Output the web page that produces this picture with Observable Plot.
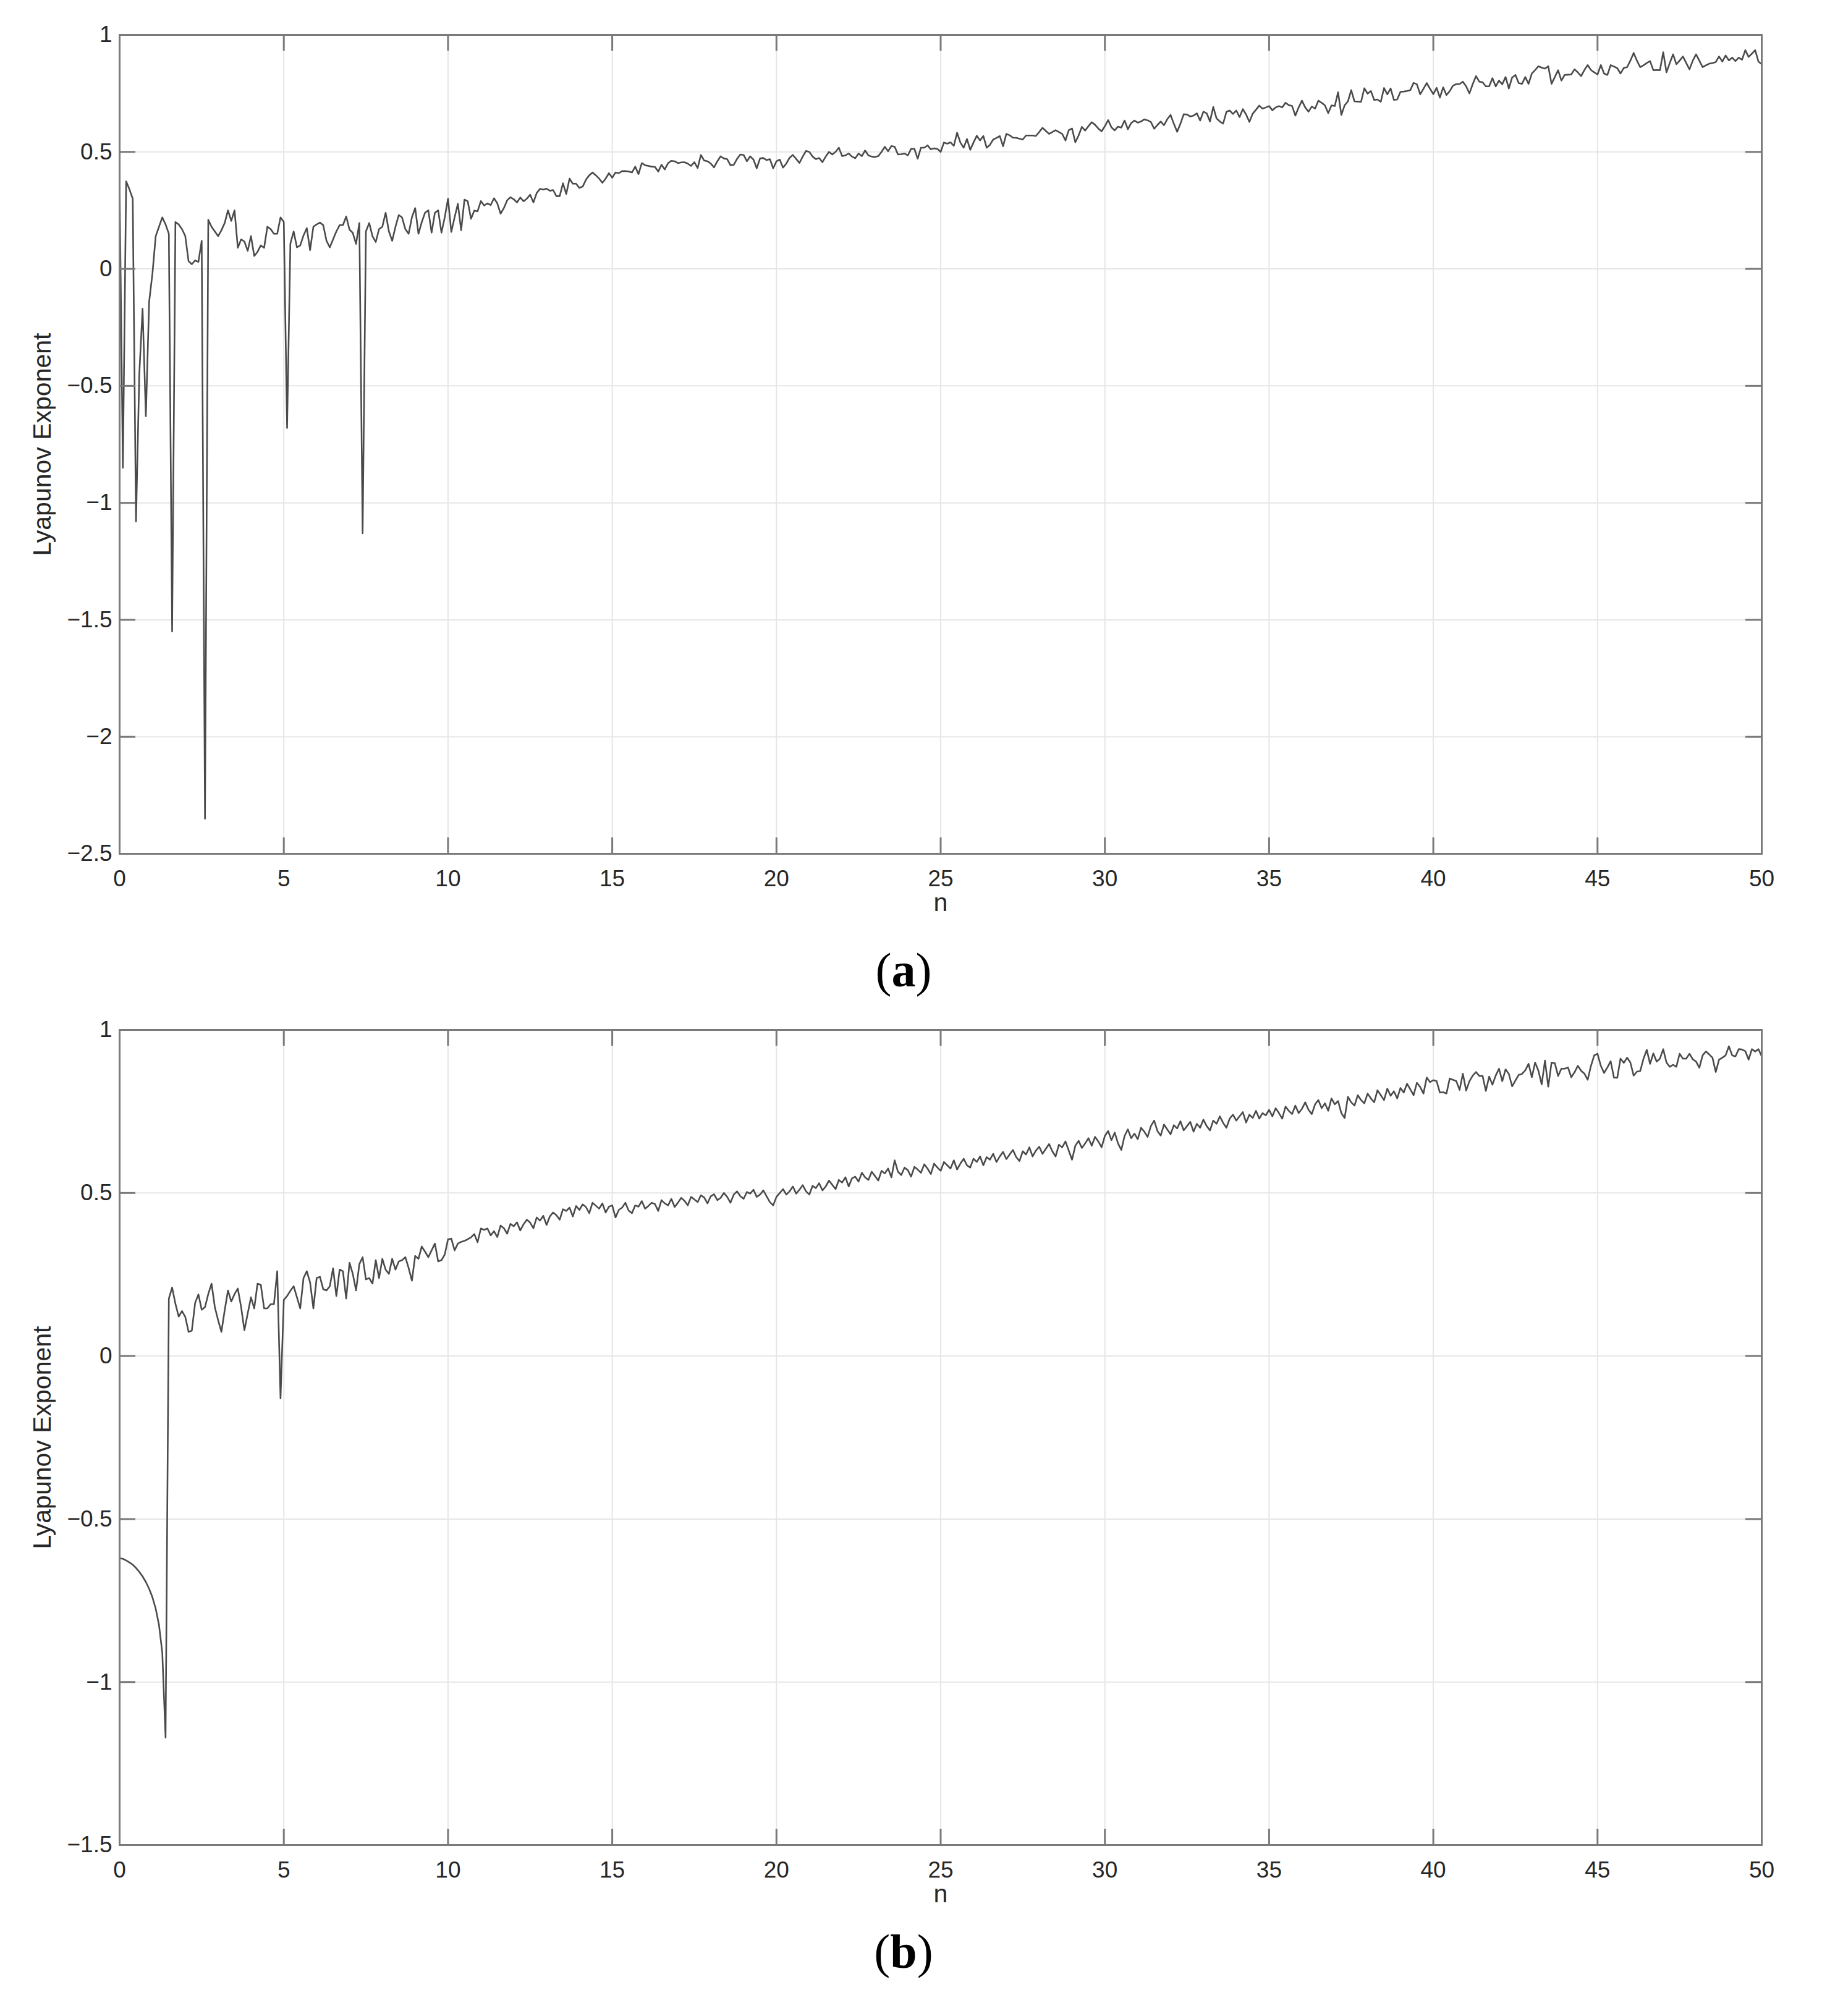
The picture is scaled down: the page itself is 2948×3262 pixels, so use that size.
<!DOCTYPE html>
<html>
<head>
<meta charset="utf-8">
<script src="https://cdn.jsdelivr.net/npm/d3@7"></script>
<script src="https://cdn.jsdelivr.net/npm/@observablehq/plot@0.6"></script>
<style>
  html, body { margin: 0; padding: 0; background: #ffffff; }
  body { width: 2948px; height: 3262px; position: relative; overflow: hidden; }
  .panel { position: absolute; left: 0; z-index: 1; }
  .caption { position: absolute; width: 400px; left: 1262px; text-align: center; z-index: 5;
             font-family: "Liberation Serif", "DejaVu Serif", serif; font-size: 78px; line-height: 1; color: #000; }
  .caption b { font-weight: bold; }
</style>
</head>
<body>
<div id="panelA" class="panel" style="top:0px"></div>
<div id="panelB" class="panel" style="top:1600px"></div>
<div class="caption" style="top:1531px">(<b>a</b>)</div>
<div class="caption" style="top:3119px">(<b>b</b>)</div>
<script>
// ---------------- DATA ----------------
const nStep = 0.1;
const xTicks = [0, 5, 10, 15, 20, 25, 30, 35, 40, 45, 50];
const yTicksA = [-2.5, -2, -1.5, -1, -0.5, 0, 0.5, 1];
const yTicksB = [-1.5, -1, -0.5, 0, 0.5, 1];
const xLabel = "n";
const yLabel = "Lyapunov Exponent";

// Panel (a): Lyapunov exponent, n = 0.0 ... 9.9
const lyapA_00 = [
  0.36, -0.85, 0.374, 0.34, 0.30, -1.08, -0.45, -0.17, -0.63, -0.14,
  -0.02, 0.14, 0.18, 0.22, 0.19, 0.15, -1.55, 0.20, 0.19, 0.17,
  0.14, 0.033, 0.02, 0.036, 0.03, 0.12, -2.35, 0.21, 0.18, 0.16,
  0.14, 0.165, 0.196, 0.25, 0.205, 0.25, 0.09, 0.126, 0.117, 0.077,
  0.14, 0.055, 0.073, 0.10, 0.09, 0.18, 0.17, 0.15, 0.15, 0.22,
  0.20, -0.68, 0.108, 0.16, 0.092, 0.10, 0.143, 0.174, 0.08, 0.18,
  0.19, 0.198, 0.187, 0.12, 0.092, 0.126, 0.16, 0.187, 0.187, 0.224,
  0.168, 0.154, 0.107, 0.196, -1.13, 0.16, 0.196, 0.14, 0.115, 0.17,
  0.18, 0.24, 0.16, 0.12, 0.18, 0.23, 0.22, 0.17, 0.15, 0.22,
  0.26, 0.15, 0.20, 0.24, 0.25, 0.155, 0.24, 0.25, 0.155, 0.22
];
// n = 10.0 ... 19.9
const lyapA_10 = [
  0.30, 0.158, 0.22, 0.278, 0.165, 0.296, 0.289, 0.214, 0.249, 0.246,
  0.290, 0.271, 0.280, 0.273, 0.302, 0.280, 0.236, 0.26, 0.293, 0.306,
  0.298, 0.284, 0.305, 0.289, 0.30, 0.317, 0.284, 0.324, 0.342, 0.339,
  0.343, 0.334, 0.337, 0.311, 0.311, 0.366, 0.320, 0.386, 0.364, 0.364,
  0.346, 0.352, 0.381, 0.40, 0.412, 0.40, 0.386, 0.368, 0.386, 0.409,
  0.390, 0.412, 0.409, 0.418, 0.418, 0.416, 0.412, 0.437, 0.405, 0.452,
  0.443, 0.44, 0.437, 0.436, 0.416, 0.445, 0.425, 0.452, 0.462, 0.46,
  0.452, 0.455, 0.456, 0.45, 0.44, 0.456, 0.431, 0.487, 0.463, 0.460,
  0.45, 0.434, 0.46, 0.481, 0.472, 0.469, 0.443, 0.445, 0.47, 0.489,
  0.487, 0.460, 0.481, 0.467, 0.430, 0.472, 0.474, 0.465, 0.469, 0.430
];
// n = 20.0 ... 29.9
const lyapA_20 = [
  0.46, 0.467, 0.433, 0.45, 0.475, 0.487, 0.47, 0.453, 0.48, 0.504,
  0.50, 0.48, 0.469, 0.474, 0.456, 0.48, 0.50, 0.489, 0.50, 0.518,
  0.482, 0.485, 0.493, 0.48, 0.473, 0.493, 0.482, 0.506, 0.485, 0.48,
  0.478, 0.482, 0.50, 0.522, 0.503, 0.525, 0.522, 0.489, 0.49, 0.493,
  0.485, 0.513, 0.513, 0.471, 0.518, 0.518, 0.528, 0.511, 0.515, 0.513,
  0.50, 0.540, 0.535, 0.541, 0.526, 0.582, 0.540, 0.518, 0.555, 0.509,
  0.54, 0.569, 0.549, 0.568, 0.518, 0.53, 0.553, 0.56, 0.568, 0.524,
  0.577, 0.571, 0.561, 0.56, 0.556, 0.553, 0.570, 0.57, 0.57, 0.568,
  0.585, 0.603, 0.59, 0.577, 0.585, 0.593, 0.585, 0.577, 0.549, 0.593,
  0.600, 0.541, 0.57, 0.607, 0.591, 0.61, 0.627, 0.616, 0.60, 0.588
];
// n = 30.0 ... 39.9
const lyapA_30 = [
  0.61, 0.636, 0.605, 0.592, 0.608, 0.604, 0.634, 0.597, 0.623, 0.634,
  0.625, 0.63, 0.639, 0.635, 0.628, 0.599, 0.615, 0.630, 0.614, 0.64,
  0.658, 0.62, 0.586, 0.62, 0.661, 0.66, 0.651, 0.655, 0.665, 0.634,
  0.672, 0.665, 0.630, 0.692, 0.643, 0.63, 0.621, 0.671, 0.677, 0.662,
  0.677, 0.649, 0.683, 0.66, 0.628, 0.663, 0.68, 0.698, 0.685, 0.69,
  0.696, 0.678, 0.69, 0.696, 0.690, 0.710, 0.70, 0.696, 0.655, 0.69,
  0.719, 0.69, 0.672, 0.694, 0.685, 0.719, 0.71, 0.699, 0.666, 0.699,
  0.696, 0.755, 0.658, 0.699, 0.716, 0.764, 0.716, 0.715, 0.714, 0.772,
  0.749, 0.760, 0.722, 0.724, 0.714, 0.773, 0.746, 0.771, 0.722, 0.724,
  0.757, 0.758, 0.76, 0.764, 0.795, 0.789, 0.746, 0.77, 0.794, 0.77
];
// n = 40.0 ... 50.0
const lyapA_40 = [
  0.747, 0.774, 0.732, 0.776, 0.743, 0.76, 0.783, 0.79, 0.79, 0.800,
  0.78, 0.750, 0.79, 0.824, 0.80, 0.798, 0.78, 0.780, 0.815, 0.780,
  0.805, 0.789, 0.820, 0.771, 0.818, 0.829, 0.794, 0.791, 0.820, 0.791,
  0.835, 0.85, 0.866, 0.86, 0.856, 0.866, 0.791, 0.82, 0.849, 0.805,
  0.829, 0.83, 0.831, 0.853, 0.84, 0.824, 0.85, 0.871, 0.85, 0.840,
  0.831, 0.871, 0.835, 0.829, 0.871, 0.865, 0.858, 0.835, 0.859, 0.862,
  0.89, 0.923, 0.89, 0.862, 0.87, 0.880, 0.888, 0.849, 0.85, 0.849,
  0.926, 0.840, 0.88, 0.917, 0.875, 0.89, 0.908, 0.88, 0.853, 0.89,
  0.917, 0.89, 0.862, 0.87, 0.877, 0.88, 0.884, 0.908, 0.886, 0.912,
  0.891, 0.903, 0.888, 0.903, 0.894, 0.935, 0.906, 0.92, 0.935, 0.886,
  0.875
];

// Panel (b): Lyapunov exponent, n = 0.0 ... 9.9
const lyapB_00 = [
  -0.62, -0.622, -0.627, -0.633, -0.64, -0.65, -0.662, -0.676, -0.693, -0.714,
  -0.74, -0.775, -0.825, -0.91, -1.17, 0.176, 0.21, 0.16, 0.121, 0.138,
  0.12, 0.074, 0.078, 0.163, 0.189, 0.142, 0.15, 0.19, 0.222, 0.15,
  0.11, 0.074, 0.14, 0.201, 0.167, 0.19, 0.207, 0.15, 0.079, 0.13,
  0.18, 0.146, 0.222, 0.218, 0.146, 0.146, 0.159, 0.159, 0.26, -0.13,
  0.172, 0.184, 0.20, 0.214, 0.18, 0.146, 0.239, 0.26, 0.226, 0.146,
  0.239, 0.243, 0.205, 0.201, 0.214, 0.269, 0.184, 0.265, 0.26, 0.176,
  0.286, 0.252, 0.201, 0.282, 0.303, 0.235, 0.239, 0.222, 0.294, 0.239,
  0.298, 0.265, 0.252, 0.298, 0.265, 0.29, 0.294, 0.303, 0.27, 0.231,
  0.307, 0.298, 0.336, 0.32, 0.303, 0.324, 0.345, 0.29, 0.294, 0.311
];
// n = 10.0 ... 19.9
const lyapB_10 = [
  0.358, 0.36, 0.324, 0.345, 0.35, 0.353, 0.358, 0.364, 0.374, 0.349,
  0.391, 0.387, 0.391, 0.37, 0.383, 0.365, 0.40, 0.392, 0.375, 0.405,
  0.398, 0.41, 0.385, 0.404, 0.418, 0.409, 0.392, 0.425, 0.415, 0.43,
  0.402, 0.428, 0.44, 0.432, 0.418, 0.45, 0.445, 0.455, 0.428, 0.46,
  0.448, 0.465, 0.457, 0.438, 0.47, 0.461, 0.452, 0.468, 0.44, 0.458,
  0.462, 0.425, 0.448, 0.455, 0.47, 0.446, 0.438, 0.462, 0.458, 0.475,
  0.452, 0.46, 0.47, 0.466, 0.445, 0.478, 0.468, 0.462, 0.482, 0.457,
  0.47, 0.485, 0.476, 0.462, 0.488, 0.48, 0.472, 0.493, 0.486, 0.468,
  0.49, 0.496, 0.478, 0.485, 0.5, 0.488, 0.47, 0.495, 0.505, 0.49,
  0.482, 0.503, 0.498, 0.51, 0.488, 0.495, 0.508, 0.49, 0.472, 0.462
];
// n = 20.0 ... 29.9
const lyapB_20 = [
  0.488, 0.5, 0.512, 0.495, 0.505, 0.52, 0.498, 0.51, 0.524, 0.505,
  0.495, 0.522, 0.515, 0.53, 0.508, 0.52, 0.538, 0.525, 0.512, 0.54,
  0.532, 0.548, 0.52, 0.545, 0.55, 0.535, 0.562, 0.548, 0.54, 0.565,
  0.552, 0.538, 0.568, 0.56, 0.575, 0.548, 0.6, 0.565, 0.555, 0.578,
  0.57, 0.55, 0.58, 0.572, 0.562, 0.588, 0.575, 0.558, 0.59, 0.578,
  0.568, 0.595, 0.585, 0.575, 0.6, 0.572, 0.59, 0.605, 0.585, 0.578,
  0.605, 0.595, 0.612, 0.585, 0.61, 0.602, 0.62, 0.595, 0.612, 0.626,
  0.604, 0.618, 0.632, 0.61, 0.598, 0.628, 0.618, 0.64, 0.612, 0.63,
  0.642, 0.62, 0.635, 0.65, 0.628, 0.612, 0.648, 0.64, 0.658, 0.63,
  0.602, 0.645, 0.66, 0.638, 0.652, 0.668, 0.645, 0.672, 0.658, 0.64
];
// n = 30.0 ... 39.9
const lyapB_30 = [
  0.675, 0.69, 0.662, 0.685, 0.652, 0.632, 0.675, 0.695, 0.668, 0.682,
  0.665, 0.7, 0.688, 0.672, 0.705, 0.722, 0.69, 0.676, 0.71, 0.695,
  0.68, 0.708, 0.698, 0.72, 0.692, 0.705, 0.718, 0.688, 0.712, 0.7,
  0.725, 0.705, 0.692, 0.722, 0.712, 0.735, 0.715, 0.7, 0.728, 0.74,
  0.722, 0.735, 0.748, 0.716, 0.74, 0.73, 0.752, 0.728, 0.745, 0.738,
  0.755, 0.735, 0.76, 0.745, 0.728, 0.765, 0.752, 0.742, 0.768, 0.745,
  0.758, 0.778, 0.755, 0.742, 0.772, 0.785, 0.76, 0.775, 0.752, 0.79,
  0.772, 0.782, 0.745, 0.73, 0.795, 0.778, 0.768, 0.8, 0.785, 0.775,
  0.805, 0.79, 0.778, 0.815, 0.8, 0.785, 0.82, 0.798, 0.812, 0.79,
  0.822, 0.808, 0.835, 0.818, 0.8, 0.838, 0.825, 0.805, 0.854, 0.84
];
// n = 40.0 ... 50.0
const lyapB_40 = [
  0.846, 0.843, 0.808, 0.809, 0.805, 0.851, 0.847, 0.843, 0.816, 0.866,
  0.814, 0.843, 0.86, 0.871, 0.859, 0.859, 0.813, 0.857, 0.832, 0.86,
  0.881, 0.843, 0.879, 0.865, 0.827, 0.845, 0.862, 0.865, 0.876, 0.896,
  0.855, 0.90, 0.875, 0.833, 0.906, 0.826, 0.90, 0.898, 0.859, 0.881,
  0.881, 0.885, 0.855, 0.87, 0.89, 0.875, 0.866, 0.847, 0.89, 0.922,
  0.927, 0.89, 0.868, 0.885, 0.904, 0.854, 0.853, 0.912, 0.899, 0.915,
  0.90, 0.86, 0.872, 0.874, 0.912, 0.939, 0.896, 0.928, 0.903, 0.912,
  0.941, 0.90, 0.887, 0.893, 0.887, 0.927, 0.912, 0.912, 0.927, 0.91,
  0.903, 0.884, 0.922, 0.934, 0.925, 0.915, 0.871, 0.909, 0.915, 0.922,
  0.95, 0.922, 0.919, 0.941, 0.94, 0.935, 0.909, 0.941, 0.934, 0.941,
  0.919
];

const segmentsA = [[0, lyapA_00], [10, lyapA_10], [20, lyapA_20], [30, lyapA_30], [40, lyapA_40]];
const segmentsB = [[0, lyapB_00], [10, lyapB_10], [20, lyapB_20], [30, lyapB_30], [40, lyapB_40]];

function toRows(segments) {
  const rows = [];
  for (const [start, vals] of segments) {
    vals.forEach((v, i) => rows.push({n: Math.round((start + i * nStep) * 10) / 10, v}));
  }
  return rows;
}

// ---------------- STYLE / LAYOUT ----------------
const W = 2948;
const ML = 193, MR = 98;
const axisColor = "#7a7a7a";
const gridColor = "#e6e6e6";
const lineColor = "#4a4a4a";
const textColor = "#262626";
const tickLen = 26;
const fmt = d => (d < 0 ? "\u2212" : "") + Math.abs(d);

function panel(rows, yDomain, yTicks, height, marginTop, marginBottom) {
  const ih = height - marginTop - marginBottom;
  const iw = W - ML - MR;
  return Plot.plot({
    width: W, height, marginTop, marginBottom, marginLeft: ML, marginRight: MR,
    x: {domain: [0, 50]},
    y: {domain: yDomain},
    style: {fontFamily: "'Liberation Sans', Arial, Helvetica, sans-serif", fontSize: "37px", color: textColor, background: "transparent", overflow: "visible"},
    marks: [
      Plot.gridX(xTicks, {stroke: gridColor, strokeOpacity: 1, strokeWidth: 2}),
      Plot.gridY(yTicks, {stroke: gridColor, strokeOpacity: 1, strokeWidth: 2}),
      Plot.line(rows, {x: "n", y: "v", stroke: lineColor, strokeWidth: 2.6, strokeLinejoin: "round"}),
      Plot.ruleX(xTicks, {x: d => d, insetTop: ih - tickLen, stroke: axisColor, strokeWidth: 3}),
      Plot.ruleX(xTicks, {x: d => d, insetBottom: ih - tickLen, stroke: axisColor, strokeWidth: 3}),
      Plot.ruleY(yTicks, {y: d => d, insetRight: iw - tickLen, stroke: axisColor, strokeWidth: 3}),
      Plot.ruleY(yTicks, {y: d => d, insetLeft: iw - tickLen, stroke: axisColor, strokeWidth: 3}),
      Plot.frame({stroke: axisColor, strokeWidth: 3}),
      Plot.axisX(xTicks, {anchor: "bottom", tickSize: 0, tickPadding: 26, label: null, tickFormat: fmt, fill: textColor, fontSize: 37}),
      Plot.axisY(yTicks, {anchor: "left", tickSize: 0, tickPadding: 12, label: null, tickFormat: fmt, fill: textColor, fontSize: 37}),
      Plot.text([xLabel], {text: d => d, frameAnchor: "bottom", dy: 92, textAnchor: "middle", fill: textColor, fontSize: 41}),
      Plot.text([yLabel], {text: d => d, frameAnchor: "left", dx: -125, rotate: -90, textAnchor: "middle", lineAnchor: "middle", fill: textColor, fontSize: 41})
    ]
  });
}

document.getElementById("panelA").append(
  panel(toRows(segmentsA), [-2.5, 1], yTicksA, 1510, 56, 129)
);
document.getElementById("panelB").append(
  panel(toRows(segmentsB), [-1.5, 1], yTicksB, 1520, 66, 135)
);
</script>
</body>
</html>
